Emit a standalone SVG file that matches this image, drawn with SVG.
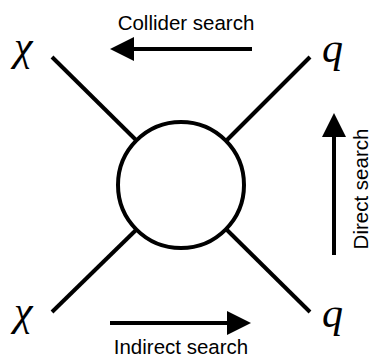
<svg xmlns="http://www.w3.org/2000/svg" width="371" height="358" viewBox="0 0 371 358">
<style>
.ln{stroke:#000;stroke-width:4;fill:none}
.lbl{font-family:"Liberation Sans",Arial,sans-serif;font-size:20.5px;fill:#000}
.sym{font-family:"Liberation Serif","Times New Roman",serif;font-style:italic;font-size:42px;fill:#000}
</style>
<defs>
<marker id="ah" markerWidth="6" markerHeight="6" refX="0" refY="3" orient="auto" markerUnits="strokeWidth">
<path d="M0,0 L6,3 L0,6 Z" fill="#000"/>
</marker>
</defs>
<g id="connectors">
<line class="ln" x1="52" y1="57" x2="136" y2="140"/>
<line class="ln" x1="310" y1="57" x2="227" y2="140"/>
<line class="ln" x1="52" y1="312" x2="136" y2="230"/>
<line class="ln" x1="310" y1="312" x2="227" y2="230"/>
<line class="ln" x1="252" y1="49" x2="134" y2="49" marker-end="url(#ah)"/>
<line class="ln" x1="110" y1="323" x2="227" y2="323" marker-end="url(#ah)"/>
<line class="ln" x1="334" y1="255" x2="334" y2="137" marker-end="url(#ah)"/>
</g>
<g id="vertex"><circle class="ln" cx="181" cy="185" r="63"/></g>
<g id="chi-top"><text class="sym" x="14" y="60">χ</text></g>
<g id="q-top"><text class="sym" x="322" y="62">q</text></g>
<g id="chi-bot"><text class="sym" x="14" y="325">χ</text></g>
<g id="q-bot"><text class="sym" x="322" y="327">q</text></g>
<g id="lbl-collider"><text class="lbl" x="186" y="30" text-anchor="middle">Collider search</text></g>
<g id="lbl-indirect"><text class="lbl" x="181" y="354" text-anchor="middle">Indirect search</text></g>
<g id="lbl-direct"><text class="lbl" transform="translate(368,189) rotate(-90)" text-anchor="middle">Direct search</text></g>
</svg>
